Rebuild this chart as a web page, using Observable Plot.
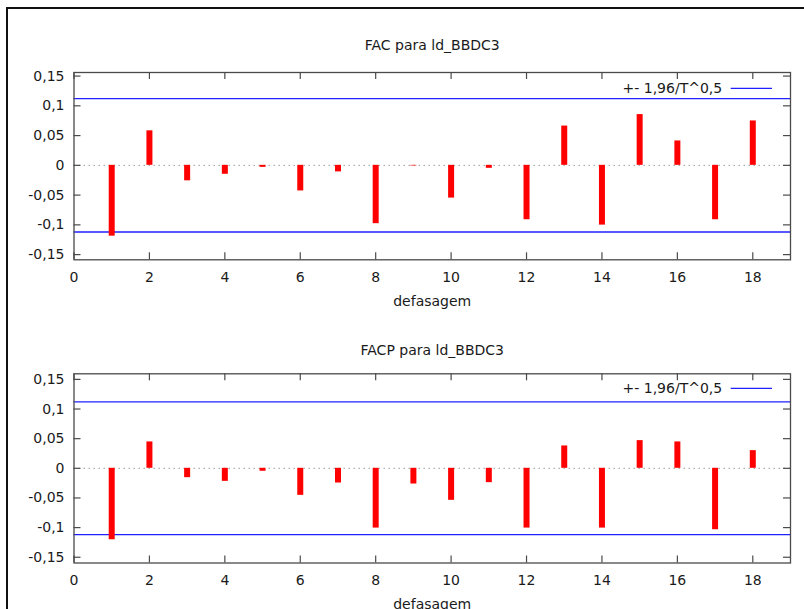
<!DOCTYPE html>
<html>
<head>
<meta charset="utf-8">
<script src="https://cdn.jsdelivr.net/npm/d3@7"></script>
<script src="https://cdn.jsdelivr.net/npm/@observablehq/plot@0.6"></script>
<style>
  html, body { margin: 0; padding: 0; background: #fff; width: 804px; height: 609px; overflow: hidden; }
  #outer { position: absolute; left: 6px; top: 7px; width: 900px; height: 700px;
           border-left: 2px solid #111; border-top: 2px solid #111; }
  .chart { position: absolute; left: 0; }
  #c1 { top: 0; }
  #c2 { top: 300px; }
</style>
</head>
<body>
<div id="outer"></div>
<div id="c1" class="chart"></div>
<div id="c2" class="chart"></div>
<script>
const lags = [1, 2, 3, 4, 5, 6, 7, 8, 9, 10, 11, 12, 13, 14, 15, 16, 17, 18];
const facValues = [-0.119, 0.058, -0.026, -0.015, -0.0034, -0.043, -0.011, -0.098, -0.001,
                   -0.055, -0.005, -0.0914, 0.066, -0.1004, 0.0853, 0.041, -0.0914, 0.0746];
const facpValues = [-0.1205, 0.0445, -0.0158, -0.022, -0.005, -0.0456, -0.0248, -0.1008, -0.0265,
                    -0.054, -0.0242, -0.1008, 0.0377, -0.1008, 0.0467, 0.0445, -0.1036, 0.0298];
const ciBand = 0.112;
const xTicks = [0, 2, 4, 6, 8, 10, 12, 14, 16, 18];
const xTickLabels = ["0", "2", "4", "6", "8", "10", "12", "14", "16", "18"];
const yTicks = [-0.15, -0.1, -0.05, 0, 0.05, 0.1, 0.15];
const yTickLabels = ["-0,15", "-0,1", "-0,05", "0", "0,05", "0,1", "0,15"];
const titles = ["FAC para ld_BBDC3", "FACP para ld_BBDC3"];
const xLabel = "defasagem";
const legendLabel = "+- 1,96/T^0,5";

const textColor = "#1a1a1a";
const frameColor = "#4a4a4a";
const blue = "#2020ff";

function makeChart(values, title, cfg) {
  const data = lags.map((lag, i) => ({lag, value: values[i]}));
  const width = 804;
  const marginLeft = 73.5, marginRight = 14;
  const innerW = width - marginLeft - marginRight;
  const innerH = cfg.height - cfg.marginTop - cfg.marginBottom;
  const legendLine = (index, scales, vals, dims) => {
    const ns = "http://www.w3.org/2000/svg";
    const line = document.createElementNS(ns, "line");
    const right = dims.width - dims.marginRight;
    line.setAttribute("x1", right - 59.3);
    line.setAttribute("x2", right - 18);
    line.setAttribute("y1", dims.marginTop + cfg.legendDy);
    line.setAttribute("y2", dims.marginTop + cfg.legendDy);
    line.setAttribute("stroke", blue);
    line.setAttribute("stroke-width", 1.3);
    return line;
  };
  return Plot.plot({
    width, height: cfg.height,
    marginLeft, marginRight, marginTop: cfg.marginTop, marginBottom: cfg.marginBottom,
    style: {fontFamily: "'DejaVu Sans', sans-serif", fontSize: "14px", color: textColor,
            background: "transparent", overflow: "visible"},
    x: {domain: [0, 19]},
    y: {domain: cfg.yDomain},
    marks: [
      Plot.ruleY([0], {stroke: "#9a9a9a", strokeWidth: 1, strokeDasharray: "1.5,3.5"}),
      Plot.ruleY([ciBand, -ciBand], {stroke: blue, strokeWidth: 1.3}),
      Plot.ruleX(data, {x: "lag", y1: 0, y2: "value", stroke: "#ff0000", strokeWidth: 6}),
      Plot.frame({stroke: frameColor, strokeWidth: 1.3}),
      Plot.tickX(xTicks, {x: d => d, insetTop: innerH - 7, stroke: frameColor, strokeWidth: 1.2}),
      Plot.tickX(xTicks, {x: d => d, insetBottom: innerH - 7, stroke: frameColor, strokeWidth: 1.2}),
      Plot.tickY(yTicks, {y: d => d, insetRight: innerW - 7, stroke: frameColor, strokeWidth: 1.2}),
      Plot.tickY(yTicks, {y: d => d, insetLeft: innerW - 7, stroke: frameColor, strokeWidth: 1.2}),
      Plot.axisY(yTicks, {tickSize: 0, tickPadding: 9.5,
                          tickFormat: d => yTickLabels[yTicks.indexOf(d)], label: null}),
      Plot.axisX(xTicks, {tickSize: 0, tickPadding: 12,
                          tickFormat: d => xTickLabels[xTicks.indexOf(d)], label: null}),
      Plot.text([xLabel], {text: d => d, frameAnchor: "bottom", dy: 42, lineAnchor: "middle", fill: textColor}),
      Plot.text([title], {text: d => d, frameAnchor: "top", dy: cfg.titleDy, lineAnchor: "middle", fill: textColor}),
      Plot.text([legendLabel], {text: d => d, frameAnchor: "top-right", dx: -68.3, dy: cfg.legendDy,
                                textAnchor: "end", lineAnchor: "middle", fill: textColor}),
      legendLine
    ]
  });
}

document.getElementById("c1").appendChild(makeChart(facValues, titles[0], {
  height: 310, marginTop: 72, marginBottom: 50.7, yDomain: [-0.1587, 0.156], titleDy: -27, legendDy: 16.3
}));
document.getElementById("c2").appendChild(makeChart(facpValues, titles[1], {
  height: 309, marginTop: 73.3, marginBottom: 46.5, yDomain: [-0.1597, 0.1594], titleDy: -23.3, legendDy: 15
}));
</script>
</body>
</html>
